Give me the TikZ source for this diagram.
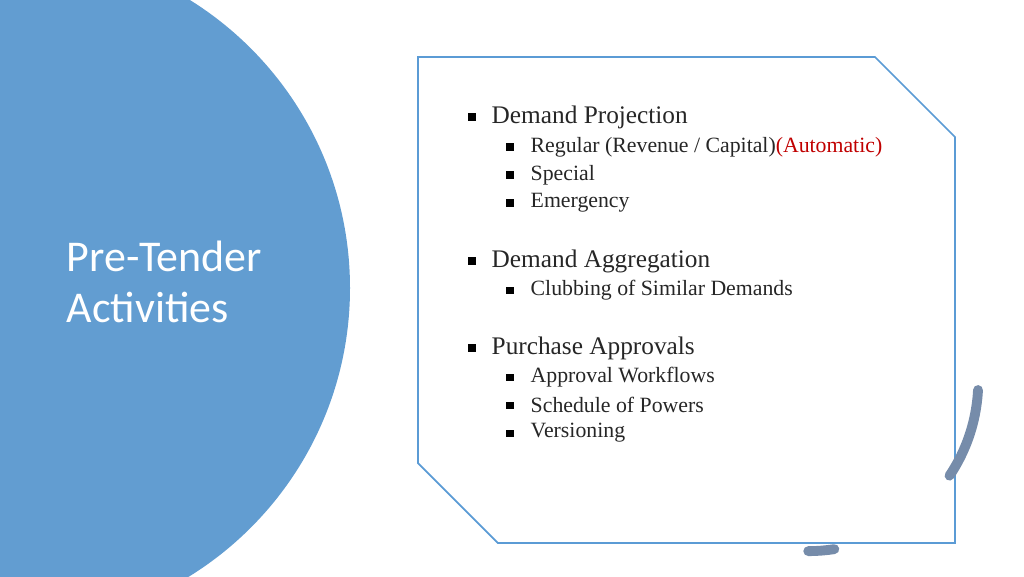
\documentclass[tikz,border=0pt]{standalone}
\usepackage{fontspec}
\setmainfont{Liberation Serif}
\newfontfamily\titlefont{Carlito}
\usetikzlibrary{positioning}
\definecolor{circblue}{RGB}{98,157,209}
\definecolor{boxblue}{RGB}{91,155,213}
\definecolor{dashgray}{RGB}{118,140,170}
\definecolor{autored}{RGB}{192,0,0}
\tikzset{
  lvlone/.style={anchor=west, inner sep=0pt, font=\fontsize{7.2}{8}\selectfont, text=black!85},
  lvltwo/.style={anchor=west, inner sep=0pt, font=\fontsize{6.2}{7}\selectfont, text=black!85},
  bul/.style={fill=black, minimum size=2.2pt, inner sep=0pt}
}
\begin{document}
\begin{tikzpicture}[x=0.1mm, y=-0.1mm]
  \useasboundingbox (0,0) rectangle (1024,576);
  \begin{scope}
    \clip (0,0) rectangle (1024,576);
    \fill[circblue] (11,288) circle[radius=339];
  \end{scope}
  \node[anchor=west, align=left, text=white, inner sep=0pt,
        font=\titlefont\fontsize{12.5}{14.5}\selectfont] (title) at (66,282) {Pre-Tender\\Activities};
  % content box
  \draw[boxblue, line width=0.5pt] (418,57) -- (875,57) -- (955,137) -- (955,543)
        -- (498,543) -- (418,463) -- cycle;
  % dashed arc
  \draw[dashgray, line width=2.8pt, line cap=round, dash pattern=on 26pt off 40pt]
        (978,390) arc[start angle=3, end angle=90, radius=170];
  % level one
  \foreach \y/\t [count=\i] in {117/Demand Projection / Creation, 261/Demand Aggregation, 348/Purchase Approvals}{
    \node[bul] (b\i) at (472,\y) {};
    \node[lvlone] (t\i) at (491,\y) {\t};
  }
  % level two
  \foreach \y/\t [count=\i] in {147/{Regular (Revenue / Capital)\textcolor{autored}{(Automatic)}}, 175/Special,
      203/Emergency, 290/Clubbing of Similar Demands, 377/Approval Workflows,
      405/Schedule of Powers, 433/Versioning}{
    \node[bul, minimum size=2pt] (s\i) at (510,\y) {};
    \node[lvltwo] (u\i) at (530,\y) {\t};
  }
\end{tikzpicture}
\end{document}
